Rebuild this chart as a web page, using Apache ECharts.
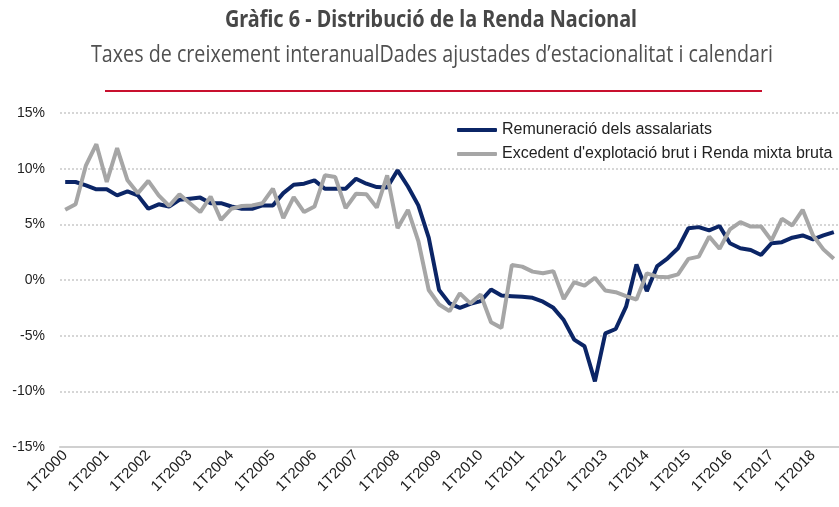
<!DOCTYPE html>
<html>
<head>
<meta charset="utf-8">
<script src="https://cdn.jsdelivr.net/npm/echarts@6/dist/echarts.min.js"></script>
<style>
  html, body { margin: 0; padding: 0; background: #fff; }
  #chart { width: 839px; height: 507px; }
</style>
</head>
<body>
<div id="chart"></div>
<script>
let titleText = "Gràfic 6 - Distribució de la Renda Nacional";
let subText = "Taxes de creixement interanualDades ajustades d’estacionalitat i calendari";
let seriesNames = ["Remuneració dels assalariats", "Excedent d'explotació brut i Renda mixta bruta"];

// quarters 1T2000 .. 3T2018
let quarters = [];
for (let y = 2000; y <= 2018; y++) {
  for (let q = 1; q <= 4; q++) {
    if (y == 2018 && q == 4) break;
    quarters.push(q + "T" + y);
  }
}

let remuneracio = [
  8.8, 8.8, 8.5, 8.15, 8.15, 7.6, 7.95, 7.6, 6.4, 6.8,
  6.6, 7.2, 7.3, 7.4, 6.9, 6.9, 6.6, 6.4, 6.4, 6.7,
  6.7, 7.8, 8.55, 8.65, 8.95, 8.2, 8.2, 8.2, 9.1, 8.65,
  8.35, 8.3, 9.85, 8.4, 6.7, 3.8, -0.9, -2.1, -2.5, -2.15,
  -1.9, -0.85, -1.4, -1.45, -1.5, -1.6, -1.95, -2.5, -3.6, -5.35,
  -5.95, -9.1, -4.8, -4.4, -2.4, 1.4, -1.0, 1.25, 1.95, 2.85,
  4.65, 4.75, 4.45, 4.85, 3.3, 2.85, 2.7, 2.25, 3.3, 3.4,
  3.8, 4.0, 3.65, 4.0, 4.3
];
let excedent = [
  6.3, 6.8, 10.3, 12.2, 8.8, 11.85, 8.95, 7.8, 8.9, 7.6,
  6.65, 7.7, 6.9, 6.1, 7.5, 5.4, 6.4, 6.65, 6.7, 6.9,
  8.2, 5.55, 7.45, 6.1, 6.6, 9.4, 9.25, 6.45, 7.75, 7.7,
  6.5, 9.4, 4.65, 6.3, 3.5, -0.9, -2.2, -2.8, -1.2, -2.1,
  -1.3, -3.8, -4.3, 1.35, 1.2, 0.75, 0.6, 0.8, -1.7, -0.2,
  -0.5, 0.2, -0.95, -1.1, -1.45, -1.75, 0.6, 0.3, 0.25, 0.5,
  1.9, 2.1, 3.9, 2.8, 4.55, 5.2, 4.8, 4.8, 3.55, 5.5,
  4.9, 6.3, 4.0, 2.75, 1.9
];

// width of a text so the titles can be squeezed like a condensed face
function textWidth(str, font) {
  let ctx = document.createElement("canvas").getContext("2d");
  ctx.font = font;
  return ctx.measureText(str).width;
}
let titleFont = "bold 24px 'Noto Sans'";
let subFont = "24px 'Open Sans'";
let titleScale = 412 / textWidth(titleText, titleFont);
let subScale = 682 / textWidth(subText, subFont);

let chart = echarts.init(document.getElementById("chart"), null, { renderer: "canvas" });
let option = {
  animation: false,
  backgroundColor: "#fff",
  color: ["#0b2566", "#a6a6a6"],
  graphic: [
    {
      type: "text", x: 431, y: 20, scaleX: titleScale,
      style: { text: titleText, font: titleFont, fill: "#474747",
        textAlign: "center", textVerticalAlign: "middle" }
    },
    {
      type: "text", x: 432, y: 55, scaleX: subScale,
      style: { text: subText, font: subFont, fill: "#505050",
        textAlign: "center", textVerticalAlign: "middle" }
    },
    {
      type: "line",
      shape: { x1: 105, y1: 91, x2: 762, y2: 91 },
      style: { stroke: "#c8102e", lineWidth: 2 }
    }
  ],
  legend: {
    orient: "vertical",
    left: 452,
    top: 117,
    icon: "roundRect",
    itemWidth: 40,
    itemHeight: 4,
    itemGap: 8,
    textStyle: { fontFamily: "Liberation Sans", fontSize: 16, color: "#222" },
    data: seriesNames
  },
  grid: { left: 60, right: -5, top: 113, bottom: 60, containLabel: false },
  xAxis: [
    {
      type: "category",
      data: quarters,
      boundaryGap: true,
      axisLine: { show: false },
      axisTick: { show: false },
      splitLine: { show: false },
      axisLabel: {
        interval: 3,
        rotate: 45,
        margin: 6,
        fontFamily: "Liberation Sans",
        fontSize: 15,
        color: "#222"
      }
    },
    {
      type: "category",
      data: quarters,
      position: "bottom",
      boundaryGap: true,
      axisLine: { show: true, onZero: true, lineStyle: { color: "#d0d0d0", width: 2 } },
      axisTick: { show: false },
      axisLabel: { show: false },
      splitLine: { show: false }
    }
  ],
  yAxis: {
    type: "value",
    min: -15,
    max: 15,
    interval: 5,
    axisLine: { show: false },
    axisTick: { show: false },
    axisLabel: {
      formatter: "{value}%",
      margin: 15,
      fontFamily: "Liberation Sans",
      fontSize: 14,
      color: "#222"
    },
    splitLine: {
      lineStyle: { type: "dotted", color: "#d6d6d6", width: 2 }
    }
  },
  series: [
    {
      name: seriesNames[0],
      type: "line",
      data: remuneracio,
      showSymbol: false,
      symbol: "none",
      lineStyle: { width: 4, color: "#0b2566" }
    },
    {
      name: seriesNames[1],
      type: "line",
      data: excedent,
      showSymbol: false,
      symbol: "none",
      lineStyle: { width: 4, color: "#a6a6a6" }
    }
  ]
};
chart.setOption(option);
</script>
</body>
</html>
